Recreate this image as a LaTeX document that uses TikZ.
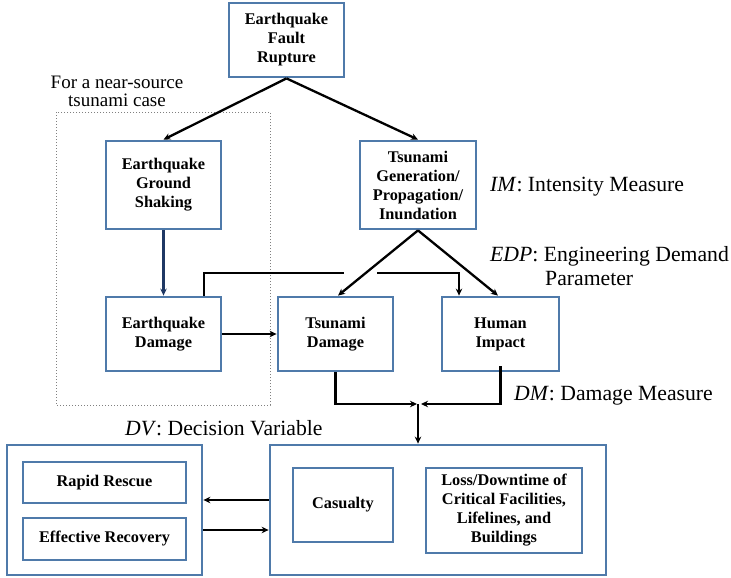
\documentclass[tikz,border=0pt]{standalone}
\usepackage{fontspec}
\setmainfont{Liberation Serif}
\usetikzlibrary{arrows.meta}
\definecolor{boxblue}{RGB}{79,122,170}
\definecolor{navy}{RGB}{31,56,100}
\begin{document}
\begin{tikzpicture}[x=1pt,y=-1pt,
  box/.style={draw=boxblue,line width=2.8pt,align=center,inner sep=2pt,
    font=\fontsize{16.3}{19}\selectfont\bfseries},
  big/.style={draw=boxblue,line width=2.8pt},
  lbl/.style={font=\fontsize{21.7}{24}\selectfont,inner sep=0pt},
  arr/.style={line width=2.3pt,-{Stealth[length=7pt,width=6.5pt]}},
  ln/.style={line width=2.3pt}]
\useasboundingbox (0,0) rectangle (731,578);
% dotted region
\draw[gray,dotted,line width=1pt] (56,112) rectangle (270,405);
\node[font=\fontsize{19}{18}\selectfont,align=center,inner sep=0pt] (near) at (117,91) {For a near-source\\tsunami case};
% boxes
\node[box,minimum width=115pt,minimum height=74pt] (fault) at (286.5,40) {Earthquake\\Fault\\Rupture};
\node[box,minimum width=115pt,minimum height=88pt] (ground) at (163.5,185) {Earthquake\\Ground\\Shaking};
\node[box,minimum width=116pt,minimum height=88pt] (tgen) at (418,185) {Tsunami\\Generation/\\Propagation/\\Inundation};
\node[box,minimum width=115pt,minimum height=74pt] (eqd) at (163.5,334) {Earthquake\\Damage};
\node[box,minimum width=115pt,minimum height=74pt] (td) at (335.5,334) {Tsunami\\Damage};
\node[box,minimum width=117pt,minimum height=74pt] (hi) at (500.5,334) {Human\\Impact};
\node[big,minimum width=195pt,minimum height=130pt] (left) at (104.5,510) {};
\node[box,minimum width=163pt,minimum height=41pt] (rr) at (104.5,482.5) {Rapid Rescue};
\node[box,minimum width=163pt,minimum height=42pt] (er) at (104.5,539) {Effective Recovery};
\node[big,minimum width=336pt,minimum height=130pt] (right) at (438,510) {};
\node[box,minimum width=100pt,minimum height=74pt] (cas) at (343,505) {Casualty};
\node[box,minimum width=156pt,minimum height=85pt] (loss) at (504,510.5) {Loss/Downtime of\\Critical Facilities,\\Lifelines, and\\Buildings};
% labels
\node[lbl,anchor=west] (im) at (490,187) {\textit{IM}: Intensity Measure};
\node[lbl,anchor=north west,align=left] (edp) at (490,246) {\textit{EDP}: Engineering Demand\\\hspace*{55pt}Parameter};
\node[lbl,anchor=west] (dm) at (514,396) {\textit{DM}: Damage Measure};
\node[lbl,anchor=west] (dv) at (125,428) {\textit{DV}: Decision Variable};
% connectors
\draw[arr] (fault.south) -- (ground.north);
\draw[arr] (fault.south) -- (tgen.north);
\draw[arr,draw=navy,fill=navy] (ground.south) -- (eqd.north);
\coordinate (g1) at (344,273);
\coordinate (g2) at (377,273);
\draw[ln] ([xshift=40.5pt]eqd.north) |- (g1);
\draw[arr] (g2) -| ([xshift=-41.5pt]hi.north);
\draw[arr] (tgen.south) -- ([xshift=2.5pt]td.north);
\draw[arr] (tgen.south) -- ([xshift=-2.5pt]hi.north);
\draw[arr] (eqd.east) -- (td.east -| td.west);
\coordinate (j) at (418,404);
\draw[arr] (td.south) |- ([xshift=-1pt]j);
\draw[arr] ([yshift=6pt]hi.south) |- ([xshift=3pt]j);
\draw[arr] (j) -- (j |- right.north);
\draw[arr] (right.west |- 0,500) -- (left.east |- 0,500);
\draw[arr] (left.east |- 0,530) -- (right.west |- 0,530);
\end{tikzpicture}
\end{document}
